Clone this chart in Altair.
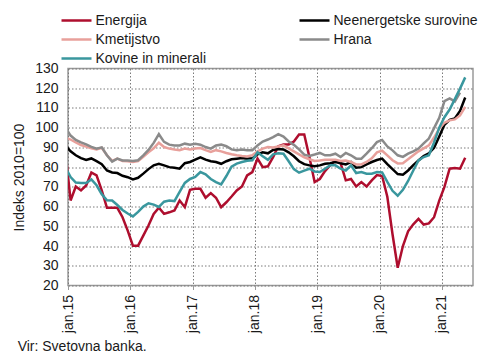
import altair as alt
import pandas as pd

# month index: -1 = dec.14, 0 = jan.15 ... 76 = maj.21
start_month = -1

energija = [88,
    63.1, 70.2, 68.2, 70.7, 77.3, 75.8, 68.2, 59.4, 59.4, 59.4, 54.6, 47.8,
    40.2, 40.2, 45.3, 50.4, 56.3, 59.4, 56.3, 57.1, 58, 63.1, 59.7, 68.5,
    69, 69, 64.5, 66.8, 64.5, 59.7, 62.2, 65.1, 68.2, 70.2, 75.8, 77.5,
    84.3, 80, 80.4, 85.1, 90.6, 91.5, 91.5, 93, 96.5, 96.5, 85, 72.4,
    74, 78, 81, 83.4, 82, 73.3, 74, 70.2, 72.4, 70.2, 73.3, 76,
    75.5, 65, 46, 29, 40, 47.5, 51, 53.8, 50.9, 51.5, 54.6, 63,
    70, 79.2, 79.5, 79.2, 84.8]

neenergetske = [91,
    88, 86, 84.6, 83.6, 84.4, 83, 81.5, 78.3, 77.3, 77, 75.6, 74.9,
    73.8, 74.6, 76.7, 79, 80.9, 81.7, 80.9, 80, 79.7, 79.2, 82, 82.6,
    83.8, 85, 83.8, 83, 82.6, 81.7, 83, 84, 84.3, 84.6, 84.3, 84.5,
    86.5, 87.5, 87, 88.7, 89.2, 89, 87.5, 85.5, 83, 81.5, 80.9, 80.4,
    80.9, 81.7, 82, 82.6, 82, 81.4, 82.6, 79.7, 80, 81.4, 82.6, 83.6,
    84.3, 81.5, 79, 76.5, 76.2, 78.3, 81, 83.4, 85.6, 87, 89.8, 95.5,
    101.5, 104, 104.7, 108.5, 115.3]

kmetijstvo = [95,
    94, 92.5, 91.2, 90.4, 89.5, 89, 89.8, 86, 83.2, 84.3, 83.1, 83,
    82.6, 83.1, 85.3, 87.5, 89.5, 92.4, 90.2, 89.4, 88.9, 88.6, 89.4, 88.9,
    89.4, 89.7, 88.6, 87.7, 88.6, 88, 87.2, 86.5, 86, 85.6, 85.4, 86,
    88, 89.4, 90.2, 90, 90.5, 91, 89.5, 88, 86.5, 85, 84, 83.1,
    83.4, 83.8, 83.8, 83.8, 83.1, 83.4, 82.6, 81.4, 81.4, 82.6, 84.5, 87.5,
    88.3, 86, 83.5, 81.9, 82, 84, 86, 88, 89.5, 91, 95, 99.5,
    102.5, 103.7, 104.2, 106.2, 110.5]

hrana = [100,
    96, 93.8, 92.5, 91.5, 90.3, 89.3, 90, 86, 82.8, 84.3, 83.4, 83.4,
    83.1, 83.5, 86, 88.7, 92.3, 96.7, 92.8, 91.4, 91, 91, 91.9, 91.4,
    91.9, 91.4, 90.2, 89.4, 91, 91.4, 90.6, 89, 88.6, 88.9, 88.6, 88.6,
    91, 93, 94, 95.2, 96.7, 95.5, 93, 91.3, 89, 86.3, 85.7, 86.4,
    87.2, 86, 86, 86.8, 85.1, 87.2, 86, 84.3, 84.3, 86.8, 89.6, 92.7,
    93.8, 90.5, 88.5, 86, 85.2, 86.8, 88, 89.4, 92, 94.5, 99.8, 105,
    113.5, 114.8, 113.3, 117.8]

kovine = [80,
    75, 72.2, 71.9, 71.9, 73.8, 70.8, 66.3, 63.2, 63.1, 60.8, 58.3, 56.5,
    55, 57.3, 60, 61.7, 61, 59.8, 62.5, 63.1, 62.8, 67.5, 72, 74,
    75, 77.5, 76.4, 74, 72.4, 71.2, 75.5, 80.3, 81.8, 82.6, 83.2, 83.5,
    87.5, 85.5, 83.7, 86.5, 87, 86.8, 83, 79, 77.2, 78.2, 79.2, 77.8,
    77.5, 79.2, 80.9, 80.9, 79.2, 78.3, 80.9, 77, 77.5, 76.7, 76.7, 77.5,
    77.3, 72.5, 68, 65.5, 68.5, 73, 78.3, 83.4, 85.1, 86, 92.5, 100,
    105.3, 109.2, 114.5, 119.8, 125.5]

names = ["Energija", "Neenergetske surovine", "Kmetijstvo", "Hrana", "Kovine in minerali"]
colors = ["#AE0E2E", "#000000", "#E8A09B", "#8A8A8A", "#3A979E"]
series = [energija, neenergetske, kmetijstvo, hrana, kovine]
# legend is filled column by column
legend_order = ["Energija", "Kmetijstvo", "Kovine in minerali", "Neenergetske surovine", "Hrana"]
legend_colors = [colors[names.index(n)] for n in legend_order]

rows = []
for k, (name, vals) in enumerate(zip(names, series)):
    for i, v in enumerate(vals):
        rows.append({"s": name, "k": k, "m": start_month + i, "v": v})
df = pd.DataFrame(rows)

FONT = "Liberation Sans"
xticks = [-0.5 + 12 * k for k in range(7)]

chart = alt.Chart(df).mark_line(strokeWidth=2.5, clip=True).encode(
    x=alt.X("m:Q",
            scale=alt.Scale(domain=[-0.5, 77.5], nice=False, zero=False),
            axis=alt.Axis(values=xticks,
                          labelExpr="'jan.' + format((datum.value + 0.5) / 12 + 15, 'd')",
                          title=None, labelAngle=270, labelAlign="right",
                          labelBaseline="middle", labelPadding=5,
                          grid=True, gridDash=[1.5, 2], gridColor="#7a7a7a", gridWidth=1,
                          ticks=True, tickSize=4, tickColor="#9a9a9a",
                          domain=False, labelFontSize=14, labelFont=FONT,
                          labelColor="#1a1a1a")),
    y=alt.Y("v:Q",
            scale=alt.Scale(domain=[20, 130], nice=False, zero=False),
            axis=alt.Axis(values=list(range(20, 131, 10)), title="Indeks 2010=100",
                          titleFontSize=14, titleFont=FONT, titleFontWeight="normal",
                          titleColor="#1a1a1a", titlePadding=8,
                          grid=True, gridDash=[1.5, 2], gridColor="#7a7a7a", gridWidth=1,
                          ticks=False, domain=False, labelPadding=10,
                          labelFontSize=14, labelFont=FONT, labelColor="#1a1a1a")),
    color=alt.Color("s:N", sort=legend_order,
                    scale=alt.Scale(domain=legend_order, range=legend_colors),
                    legend=alt.Legend(title=None, orient="none", legendX=-0.5, legendY=-57,
                                      columns=2, symbolType="M-2,0H2", symbolSize=225,
                                      symbolStrokeWidth=2.5, symbolFillColor="transparent",
                                      labelFontSize=14,
                                      labelFont=FONT, labelColor="#1a1a1a",
                                      columnPadding=88, rowPadding=3, labelOffset=10,
                                      padding=0)),
    detail="k:O",
).properties(
    width=405, height=217,
    autosize=alt.AutoSizeParams(type="none"),
    padding={"left": 68, "top": 68.5, "right": 17, "bottom": 70.5},
    title=alt.TitleParams("Vir: Svetovna banka.", orient="bottom", anchor="start",
                          fontSize=14, font=FONT, fontWeight="normal", color="#1a1a1a",
                          dx=5, offset=7),
).configure_view(stroke="#9a9a9a", strokeWidth=1.5)

chart.save("out.html", embed_options={"renderer": "svg", "actions": False})
